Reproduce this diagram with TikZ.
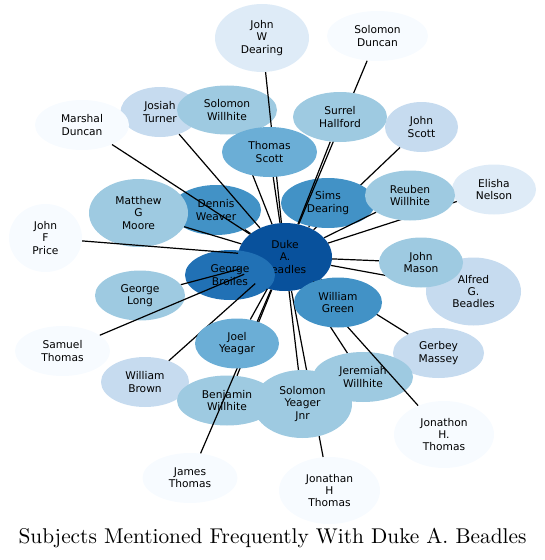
\documentclass[tikz,border=0pt]{standalone}
\usepackage{fontspec}
\newfontfamily\dv{DejaVu Sans}
\newfontfamily\titlefont{lmroman10-regular}[Extension=.otf]
\usetikzlibrary{shapes.geometric}
\pgfdeclarelayer{lone}
\pgfdeclarelayer{eone}
\pgfdeclarelayer{ltwo}
\pgfdeclarelayer{lthree}
\pgfsetlayers{lone,eone,ltwo,main,lthree}
\definecolor{bA}{HTML}{F7FBFF}
\definecolor{bB}{HTML}{DEEBF7}
\definecolor{bC}{HTML}{C6DBEF}
\definecolor{bD}{HTML}{9ECAE1}
\definecolor{bE}{HTML}{6BAED6}
\definecolor{bF}{HTML}{4292C6}
\definecolor{bG}{HTML}{2171B5}
\definecolor{bH}{HTML}{08519C}
\tikzset{
  pn/.style n args={3}{ellipse, fill=#3, draw=none, minimum width=#1*1.5pt,
    minimum height=#2*1.5pt, inner sep=0pt, align=center, text=black,
    font=\dv\fontsize{8}{9.2}\selectfont},
  edge/.style={draw=black, line width=0.9pt}
}
\begin{document}
\begin{tikzpicture}[x=0.75pt,y=-0.75pt]
\useasboundingbox (0,0) rectangle (545,560);
\begin{pgfonlayer}{lone}
\node[pn={47}{34}{bH}] (duke) at (285,257) {Duke\\A.\\Beadles};
\node[pn={45}{25}{bG}] (gb) at (230,275) {George\\Broiles};
\node[pn={45}{25}{bF}] (dw) at (216,210) {Dennis\\Weaver};
\node[pn={49.5}{34}{bD}] (mgm) at (138.5,213) {Matthew\\G\\Moore};
\node[pn={39.5}{25}{bC}] (jt) at (160,112) {Josiah\\Turner};
\node[pn={50}{24.5}{bD}] (sw) at (227,110) {Solomon\\Willhite};
\node[pn={47}{34}{bB}] (jwd) at (262,38) {John\\W\\Dearing};
\node[pn={50.5}{25}{bA}] (sdun) at (377.5,36) {Solomon\\Duncan};
\node[pn={47}{25}{bA}] (md) at (82,125) {Marshal\\Duncan};
\node[pn={36.5}{25}{bC}] (js) at (421.5,127) {John\\Scott};
\node[pn={42}{25}{bB}] (en) at (494,189.5) {Elisha\\Nelson};
\node[pn={36.5}{34}{bA}] (jfp) at (45.5,238) {John\\F\\Price};
\node[pn={47.5}{34}{bC}] (agb) at (473.5,291.5) {Alfred\\G.\\Beadles};
\node[pn={45}{25}{bD}] (gl) at (140,295.5) {George\\Long};
\node[pn={47.5}{25}{bA}] (st) at (62.5,351) {Samuel\\Thomas};
\node[pn={45.5}{25}{bC}] (gm) at (438.5,353) {Gerbey\\Massey};
\node[pn={44}{25}{bC}] (wb) at (145,382) {William\\Brown};
\node[pn={50}{25}{bD}] (jw) at (363,377) {Jeremiah\\Willhite};
\node[pn={50}{25}{bD}] (bw) at (227,400.5) {Benjamin\\Willhite};
\node[pn={50}{33.5}{bA}] (jhtn) at (444,434.5) {Jonathon\\H.\\Thomas};
\node[pn={47.5}{25}{bA}] (jat) at (190,478) {James\\Thomas};
\node[pn={50.5}{33.5}{bA}] (jht) at (329.5,490.5) {Jonathan\\H\\Thomas};
\end{pgfonlayer}
\begin{pgfonlayer}{eone}
\draw[edge] (js) -- (duke);
\end{pgfonlayer}
\begin{pgfonlayer}{ltwo}
\node[pn={47}{25}{bF}] (sd) at (328,203) {Sims\\Dearing};
\end{pgfonlayer}
\begin{pgfonlayer}{lthree}
\node[pn={47.5}{25}{bE}] (ts) at (269.5,152) {Thomas\\Scott};
\node[pn={47}{25}{bD}] (sh) at (340,117) {Surrel\\Hallford};
\node[pn={45}{25}{bD}] (rw) at (410,195.5) {Reuben\\Willhite};
\node[pn={42}{25}{bD}] (jm) at (421,262.5) {John\\Mason};
\node[pn={44}{25}{bF}] (wg) at (338,302.5) {William\\Green};
\node[pn={42}{25}{bE}] (jy) at (237,343.5) {Joel\\Yeagar};
\node[pn={49.5}{34}{bD}] (syj) at (302.5,404) {Solomon\\Yeager\\Jnr};
\end{pgfonlayer}
\foreach \n in {jwd,sdun,jt,sw,md,sh,ts,en,rw,sd,mgm,dw,jfp,jm,agb,gl,wg,st,jy,gm,wb,jw,bw,syj,jhtn,jat,jht}
  {\draw[edge] (\n) -- (duke);}
\node[font=\titlefont\fontsize{16}{19}\selectfont, anchor=base, inner sep=0pt] (title) at (272.5,543.5) {Subjects Mentioned Frequently With Duke A. Beadles};
\end{tikzpicture}
\end{document}
